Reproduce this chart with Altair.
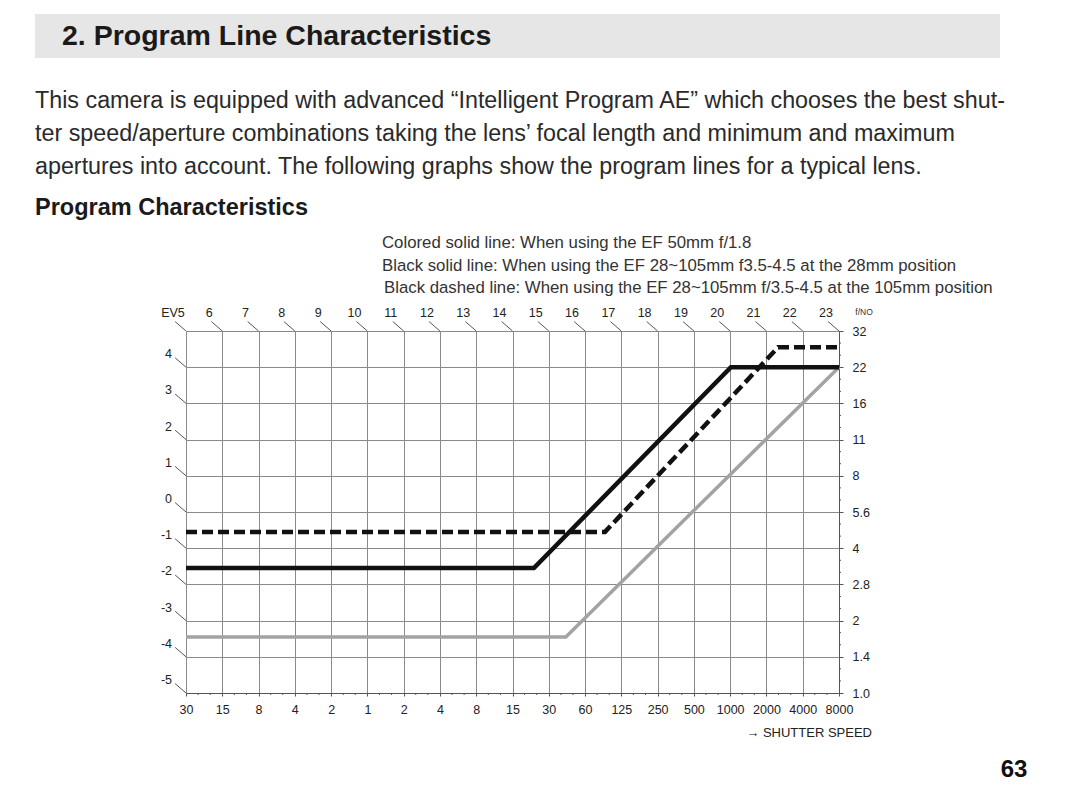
import altair as alt
import pandas as pd

# ---------------- data ----------------
tv_ticks = list(range(-5, 14))
shutter_labels = ["30", "15", "8", "4", "2", "1", "2", "4", "8", "15", "30", "60",
                  "125", "250", "500", "1000", "2000", "4000", "8000"]
av_ticks = list(range(0, 11))
fno_labels = ["1.0", "1.4", "2", "2.8", "4", "5.6", "8", "11", "16", "22", "32"]

ev_top_labels = ["EV5"] + [str(v) for v in range(6, 24)]
ev_left_labels = ["4", "3", "2", "1", "0", "-1", "-2", "-3", "-4", "-5"]
ev_left_av = [9, 8, 7, 6, 5, 4, 3, 2, 1, 0]

# program lines (Tv, Av)
gray_tv = [-5, 5.47, 13]
gray_av = [1.55, 1.55, 9.0]
black_tv = [-5, 4.59, 10.02, 13]
black_av = [3.45, 3.45, 9.0, 9.0]
dash_tv = [-5, 6.55, 11.32, 13]
dash_av = [4.45, 4.45, 9.55, 9.55]

title_text = "2. Program Line Characteristics"
para_lines = [
    "This camera is equipped with advanced \u201cIntelligent Program AE\u201d which chooses the best shut-",
    "ter speed/aperture combinations taking the lens\u2019 focal length and minimum and maximum",
    "apertures into account. The following graphs show the program lines for a typical lens.",
]
subtitle_text = "Program Characteristics"
legend_lines = [
    "Colored solid line: When using the EF 50mm f/1.8",
    "Black solid line: When using the EF 28~105mm f3.5-4.5 at the 28mm position",
    "Black dashed line: When using the EF 28~105mm f/3.5-4.5 at the 105mm position",
]
fno_text = "f/NO"
speed_text = "\u2192 SHUTTER SPEED"
page_text = "63"

# ---------------- layout ----------------
W, H = 653, 362
OX, OY = 186, 331          # page position of plot origin
PAD = {"left": OX - 8, "top": OY - 8, "right": 1064 - (OX - 8) - W, "bottom": 784 - (OY - 8) - H}
FONT = "Liberation Sans"

xs = alt.Scale(domain=[-5, 13], nice=False, zero=False)
ys = alt.Scale(domain=[0, 10], nice=False, zero=False)

sl = "[" + ",".join("'%s'" % s for s in shutter_labels) + "]"
fl = "[" + ",".join("'%s'" % s for s in fno_labels) + "]"

xaxis = alt.Axis(values=tv_ticks, labelExpr=sl + "[round(datum.value) + 5]", grid=True,
                 gridColor="#8a8a8a", gridWidth=1, domainColor="#555555", tickColor="#555555",
                 tickSize=3, labelFont=FONT, labelFontSize=12.5, labelColor="#222222",
                 labelPadding=7, title=None, labelFlush=False, labelOverlap=False)
yaxis = alt.Axis(values=av_ticks, orient="right", labelExpr=fl + "[round(datum.value)]", grid=True,
                 gridColor="#8a8a8a", gridWidth=1, domainColor="#555555", tickColor="#555555",
                 tickSize=4, labelFont=FONT, labelFontSize=12.5, labelColor="#222222",
                 labelPadding=9, title=None, labelFlush=False, labelOverlap=False)

X = alt.X("tv:Q", scale=xs, axis=xaxis)
Y = alt.Y("av:Q", scale=ys, axis=yaxis)


def series(tv, av):
    return pd.DataFrame({"tv": tv, "av": av, "o": list(range(len(tv)))})


gray = alt.Chart(series(gray_tv, gray_av)).mark_line(color="#a3a3a3", strokeWidth=3.5).encode(
    x=X, y=Y, order="o:O")
black = alt.Chart(series(black_tv, black_av)).mark_line(color="#111111", strokeWidth=4.5).encode(
    x=X, y=Y, order="o:O")
dashed = alt.Chart(series(dash_tv, dash_av)).mark_line(color="#111111", strokeWidth=4.5,
                                                       strokeDash=[11, 5]).encode(
    x=X, y=Y, order="o:O")

# EV markers
top_df = pd.DataFrame({"tv": tv_ticks, "av": [10] * len(tv_ticks), "lab": ev_top_labels})
left_df = pd.DataFrame({"tv": [-5] * len(ev_left_av), "av": ev_left_av, "lab": ev_left_labels})
ev_df = pd.concat([top_df, left_df], ignore_index=True)

ev_ticks = alt.Chart(ev_df).transform_calculate(
    tv2="datum.tv - 0.3", av2="datum.av + 0.26"
).mark_rule(color="#555555", strokeWidth=1).encode(
    x=X, y=Y, x2="tv2:Q", y2="av2:Q")

ev_top_text = alt.Chart(top_df).mark_text(
    align="center", baseline="middle", dx=-13, dy=-18, font=FONT, fontSize=12.5, color="#222222"
).encode(x=X, y=Y, text="lab:N")
ev_left_text = alt.Chart(left_df).mark_text(
    align="right", baseline="middle", dx=-14, dy=-13, font=FONT, fontSize=12.5, color="#222222"
).encode(x=X, y=Y, text="lab:N")

# minor ticks (third stops)
minor_x = pd.DataFrame({"tv": [t + k / 3 for t in range(-5, 13) for k in (1, 2)]})
minor_y = pd.DataFrame({"av": [a + k / 3 for a in range(0, 10) for k in (1, 2)]})
mx = alt.Chart(minor_x).mark_rule(color="#555555", strokeWidth=1).encode(
    x=X, y=alt.value(H), y2=alt.value(H + 2))
my = alt.Chart(minor_y).mark_rule(color="#555555", strokeWidth=1).encode(
    y=Y, x=alt.value(W), x2=alt.value(W + 2))


def txt(s, x, y, size, weight="normal", align="left", color="#1a1a1a", font=FONT):
    return alt.Chart(pd.DataFrame({"t": [s]})).mark_text(
        align=align, baseline="middle", fontSize=size, fontWeight=weight, font=font, color=color
    ).encode(x=alt.value(x - OX), y=alt.value(y - OY), text="t:N")


banner = alt.Chart(pd.DataFrame({"a": [0]})).mark_rect(color="#e6e6e6").encode(
    x=alt.value(35 - OX), x2=alt.value(1000 - OX), y=alt.value(14 - OY), y2=alt.value(58 - OY))

texts = [
    txt(title_text, 62, 36, 28.5, weight="bold"),
    txt(para_lines[0], 35, 101, 23.3, color="#2a2a2a"),
    txt(para_lines[1], 35, 134, 23.3, color="#2a2a2a"),
    txt(para_lines[2], 35, 167, 23.3, color="#2a2a2a"),
    txt(subtitle_text, 35, 208, 23.5, weight="bold"),
    txt(legend_lines[0], 382, 243, 16.8, color="#333333"),
    txt(legend_lines[1], 382, 266, 16.8, color="#333333"),
    txt(legend_lines[2], 384, 288, 16.8, color="#333333"),
    txt(fno_text, 864, 312, 8.5, align="center", color="#333333"),
    txt(speed_text, 872, 733, 13, align="right", color="#222222"),
    txt(page_text, 1014, 770, 24, weight="bold", align="center", color="#111111"),
]

chart = alt.layer(
    banner, *texts, mx, my, ev_ticks, ev_top_text, ev_left_text, gray, black, dashed
).properties(
    width=W, height=H, padding=PAD, autosize=alt.AutoSizeParams(type="none")
).configure_view(stroke=None).configure(background="white")

chart.save("out.html", embed_options={"renderer": "svg", "actions": False})
